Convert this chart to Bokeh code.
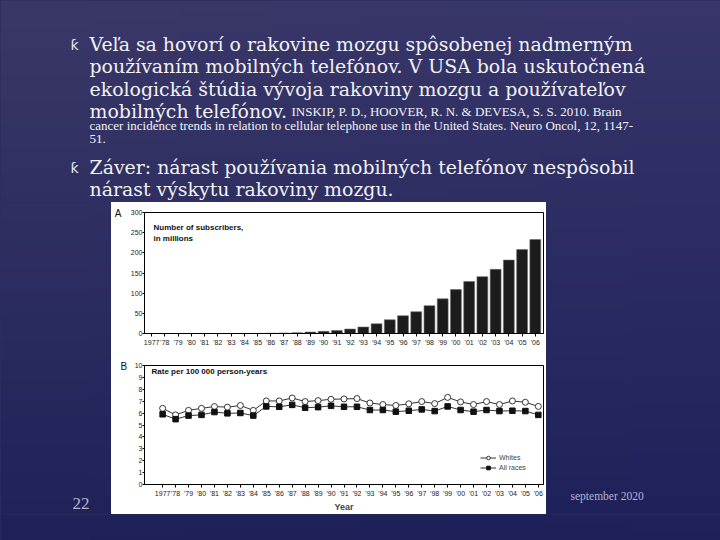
import numpy as np
from bokeh.plotting import figure
from bokeh.layouts import column, row
from bokeh.models import Range1d, Label, Legend, LegendItem, FixedTicker, GlobalInlineStyleSheet
from bokeh.embed import file_html
from bokeh.resources import INLINE
from bokeh.core.properties import value

# ---------------- data ----------------
years = list(range(1977, 2007))
year_labels = ["1977", "'78", "'79", "'80", "'81", "'82", "'83", "'84", "'85", "'86",
               "'87", "'88", "'89", "'90", "'91", "'92", "'93", "'94", "'95", "'96",
               "'97", "'98", "'99", "'00", "'01", "'02", "'03", "'04", "'05", "'06"]
subscribers = [0, 0, 0, 0, 0, 0, 0, 0.1, 0.3, 0.7,
               1.2, 2.1, 3.5, 5.3, 7.6, 11.0, 16.0, 24.0, 34.0, 44.0,
               54.0, 69.0, 86.0, 109.0, 129.0, 141.0, 159.0, 182.0, 208.0, 233.0]
whites = [6.4, 5.85, 6.23, 6.4, 6.55, 6.5, 6.64, 6.23, 7.02, 7.02,
          7.27, 6.97, 7.05, 7.16, 7.19, 7.22, 6.85, 6.72, 6.64, 6.78,
          6.97, 6.8, 7.32, 6.94, 6.72, 6.97, 6.72, 7.02, 6.91, 6.56]
all_races = [5.9, 5.49, 5.79, 5.85, 6.09, 5.98, 6.01, 5.79, 6.56, 6.53,
             6.69, 6.45, 6.5, 6.61, 6.53, 6.53, 6.26, 6.26, 6.12, 6.2,
             6.31, 6.17, 6.56, 6.26, 6.12, 6.26, 6.17, 6.2, 6.17, 5.85]
subs_ticks = [0, 50, 100, 150, 200, 250, 300]
rate_ticks = [0, 1, 2, 3, 4, 5, 6, 7, 8, 9, 10]
panel_labels = ["A", "B"]

bullet1 = ["Veľa sa hovorí o rakovine mozgu spôsobenej nadmerným",
           "používaním mobilných telefónov. V USA bola uskutočnená",
           "ekologická štúdia vývoja rakoviny mozgu a používateľov",
           "mobilných telefónov."]
citation = ["INSKIP, P. D., HOOVER, R. N. & DEVESA, S. S. 2010. Brain",
            "cancer incidence trends in relation to cellular telephone use in the United States. Neuro Oncol, 12, 1147-",
            "51."]
bullet2 = ["Záver: nárast používania mobilných telefónov nespôsobil",
           "nárast výskytu rakoviny mozgu."]

# ---------------- background gradient ----------------
H, W = 270, 8
img = np.empty((H, W), dtype=np.uint32)
view = img.view(dtype=np.uint8).reshape((H, W, 4))
top_c = np.array([58, 56, 104], float)
bot_c = np.array([31, 34, 88], float)
for i in range(H):
    t = i / (H - 1)  # 0 bottom, 1 top
    c = bot_c + (top_c - bot_c) * t
    for j in range(W):
        s = 1.0 - 0.04 * (j / (W - 1))
        view[i, j, 0] = int(c[0] * s)
        view[i, j, 1] = int(c[1] * s)
        view[i, j, 2] = int(min(255, c[2] * (1.0 + 0.02 * j / (W - 1))))
        view[i, j, 3] = 255

SERIF = value("DejaVu Serif")
SERIF2 = value("Liberation Serif")
SANS = "Liberation Sans"


def bg_fig(w, h, x0, x1, y0, y1):
    p = figure(width=w, height=h, x_range=Range1d(x0, x1), y_range=Range1d(540 - y1, 540 - y0),
               output_backend="svg", toolbar_location=None, x_axis_location=None,
               y_axis_location=None, min_border=0)
    p.grid.visible = False
    p.outline_line_color = None
    p.background_fill_color = "#2c2e60"
    p.border_fill_color = "#2c2e60"
    p.image_rgba(image=[img], x=0, y=0, dw=720, dh=540)
    return p


# ---------------- top text area ----------------
top = bg_fig(720, 202, 0, 720, 0, 202)
b1_base = [43.5, 65.8, 88.1, 110.5]
top.text(x=[89] * 4, y=[540 - b for b in b1_base], text=bullet1, text_font=SERIF,
         text_font_size="18.9px", text_color="#f2f2f4", text_baseline="alphabetic")
top.text(x=[291, 89, 89], y=[540 - 110.5, 540 - 124.5, 540 - 138.5], text=citation, text_font=SERIF2,
         text_font_size="13px", text_color="#f2f2f4", text_baseline="alphabetic")
b2_base = [166.5, 188.8]
top.text(x=[89] * 2, y=[540 - b for b in b2_base], text=bullet2, text_font=SERIF,
         text_font_size="18.9px", text_color="#f2f2f4", text_baseline="alphabetic")
top.text(x=[74, 74], y=[540 - 44, 540 - 167], text=["ƙ", "ƙ"], text_font=value("DejaVu Sans"),
         text_font_size="14px", text_color="#e8e8ee", text_align="center", text_baseline="alphabetic")

# ---------------- side / bottom areas ----------------
left = bg_fig(111, 312, 0, 111, 202, 514)
left.text(x=[80.5], y=[540 - 502.5], text=["22"], text_font=SERIF2, text_font_size="17px",
          text_color="#b4b4d2", text_align="center", text_baseline="alphabetic")
right = bg_fig(174, 312, 546, 720, 202, 514)
right.text(x=[570], y=[540 - 495], text=["september 2020"], text_font=SERIF2, text_font_size="11.5px",
           text_color="#b4b4d2", text_baseline="alphabetic")
bottom = bg_fig(720, 26, 0, 720, 514, 540)

# ---------------- panel letters strip (white) ----------------
strip = figure(width=16, height=312, x_range=Range1d(111, 127), y_range=Range1d(540 - 514, 540 - 202),
               output_backend="svg", toolbar_location=None, x_axis_location=None,
               y_axis_location=None, min_border=0)
strip.grid.visible = False
strip.outline_line_color = None
strip.background_fill_color = "white"
strip.border_fill_color = "white"
strip.text(x=[117.5, 123.3], y=[540 - 213, 540 - 365.5], text=panel_labels, text_font=value(SANS),
           text_font_size="10px", text_align="center", text_baseline="middle", text_color="#111111")


def style_axes(p):
    for ax in (p.xaxis, p.yaxis):
        ax.major_label_text_font = SANS
        ax.major_label_text_font_size = "7px"
        ax.major_label_text_color = "#222222"
        ax.major_tick_out = 3
        ax.major_tick_in = 0
        ax.minor_tick_line_color = None
        ax.major_label_standoff = 2
        ax.axis_line_color = "black"
    p.yaxis.major_label_standoff = 0
    p.yaxis.major_tick_out = 2


# ---------------- panel A ----------------
pa = figure(width=419, height=150, x_range=Range1d(1976.46, 2006.62), y_range=Range1d(0, 300),
            output_backend="svg", toolbar_location=None,
            min_border_left=15, min_border_right=2, min_border_top=10, min_border_bottom=19)
pa.background_fill_color = "white"
pa.border_fill_color = "white"
pa.outline_line_color = "black"
pa.grid.visible = False
pa.vbar(x=years, top=subscribers, width=0.82, fill_color="#1c1c1c", line_color="#6a6a6a", line_width=0.6)
pa.xaxis.ticker = FixedTicker(ticks=years)
pa.xaxis.major_label_overrides = {y: l for y, l in zip(years, year_labels)}
pa.yaxis.ticker = FixedTicker(ticks=subs_ticks)
style_axes(pa)
pa.add_layout(Label(x=9, y=106, x_units="screen", y_units="screen", text="Number of subscribers,",
                    text_font=SANS, text_font_size="8px", text_font_style="bold",
                    text_baseline="middle", text_color="#111111"))
pa.add_layout(Label(x=9, y=95, x_units="screen", y_units="screen", text="in millions",
                    text_font=SANS, text_font_size="8px", text_font_style="bold",
                    text_baseline="middle", text_color="#111111"))

# ---------------- panel B ----------------
pb = figure(width=419, height=162, x_range=Range1d(1975.6, 2006.4), y_range=Range1d(0, 10),
            output_backend="svg", toolbar_location=None,
            min_border_left=15, min_border_right=3, min_border_top=13, min_border_bottom=27)
pb.background_fill_color = "white"
pb.border_fill_color = "white"
pb.outline_line_color = "black"
pb.grid.visible = False
l1 = pb.line(years, whites, line_color="#333333", line_width=1)
s1 = pb.scatter(years, whites, marker="circle", size=6, fill_color="white", line_color="#222222", line_width=0.9)
l2 = pb.line(years, all_races, line_color="#333333", line_width=1)
s2 = pb.scatter(years, all_races, marker="square", size=5.5, fill_color="#111111", line_color="#111111")
pb.xaxis.ticker = FixedTicker(ticks=years)
pb.xaxis.major_label_overrides = {y: l for y, l in zip(years, year_labels)}
pb.yaxis.ticker = FixedTicker(ticks=rate_ticks)
style_axes(pb)
pb.xaxis.axis_label = "Year"
pb.xaxis.axis_label_text_font = SANS
pb.xaxis.axis_label_text_font_size = "9px"
pb.xaxis.axis_label_text_font_style = "bold"
pb.xaxis.axis_label_standoff = 2
pb.add_layout(Label(x=7, y=113, x_units="screen", y_units="screen", text="Rate per 100 000 person-years",
                    text_font=SANS, text_font_size="8px", text_font_style="bold",
                    text_baseline="middle", text_color="#111111"))
legend = Legend(items=[LegendItem(label="Whites", renderers=[l1, s1]),
                       LegendItem(label="All races", renderers=[l2, s2])],
                location=(336, 12), border_line_color=None, background_fill_alpha=0,
                label_text_font=SANS, label_text_font_size="7px", glyph_width=16, glyph_height=9,
                label_height=9, spacing=1, padding=0, margin=0, label_standoff=3)
pb.add_layout(legend)

charts = column(pa, pb, spacing=0, styles={"background-color": "white"})
chart_area = row(strip, charts, spacing=0, styles={"background-color": "white"})
mid = row(left, chart_area, right, spacing=0)
layout = column(top, mid, bottom, spacing=0)
layout.stylesheets = [GlobalInlineStyleSheet(
    css="html, body { margin: 0; padding: 0; overflow: hidden; background: #2c2e60; }")]

open("out.html", "w").write(file_html(layout, INLINE))
